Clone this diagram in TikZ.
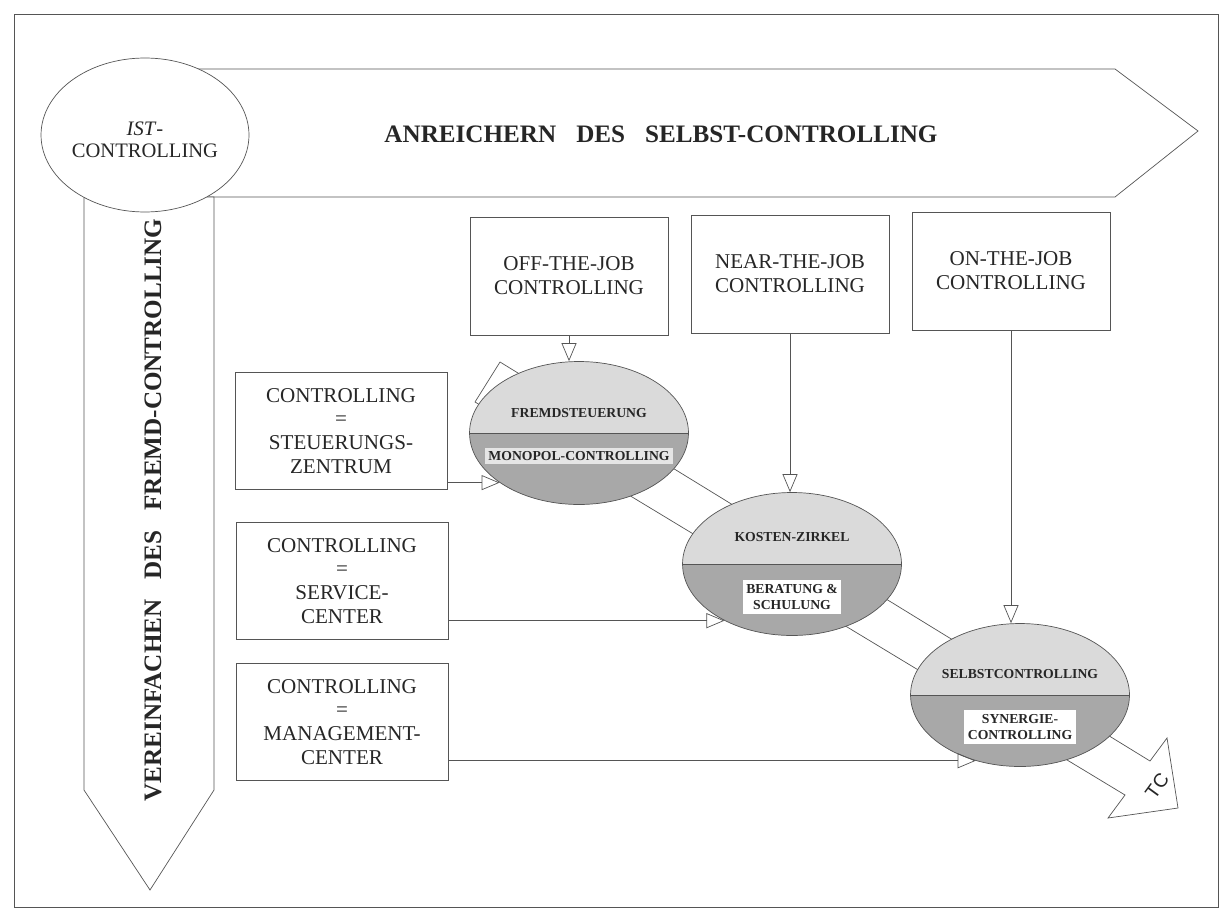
\documentclass[tikz,border=0pt]{standalone}
\usepackage{fontspec}
\setmainfont{Liberation Serif}
\setsansfont{Liberation Sans}
\usepackage{tikz}
\usetikzlibrary{positioning,shapes.geometric,arrows.meta,calc}
\definecolor{inkgray}{RGB}{85,85,85}
\definecolor{lightfill}{RGB}{218,218,218}
\definecolor{darkfill}{RGB}{168,168,168}

\begin{document}
\begin{tikzpicture}[x=0.02cm,y=-0.02cm,
    every node/.style={font=\fontsize{12}{13.6}\selectfont,text=black!85},
    jobbox/.style={draw=inkgray,align=center,minimum width=3.96cm,minimum height=2.36cm,inner sep=0pt},
    rolebox/.style={draw=inkgray,align=center,minimum width=4.24cm,minimum height=2.34cm,inner sep=0pt},
    phase/.style={ellipse,draw=inkgray,fill=lightfill,minimum width=4.38cm,minimum height=2.86cm,inner sep=0pt,
        path picture={\fill[darkfill] (path picture bounding box.west) rectangle (path picture bounding box.south east);
            \draw[inkgray] (path picture bounding box.west) -- (path picture bounding box.east);}},
    uplabel/.style={font=\fontsize{7.8}{9.6}\selectfont\bfseries,align=center,inner sep=1pt},
    lowlabel/.style={uplabel,fill=white,inner sep=2pt},
    feed/.style={draw=inkgray,-{Triangle[open,length=0.36cm,width=0.3cm]}},
    banner/.style={font=\fontsize{14.3}{16}\selectfont\bfseries}]
    \useasboundingbox (0,0) rectangle (1229,909);
    \draw[inkgray] (14,14) rectangle (1218,907);
    % the two big arrows and the start ellipse
    \draw[inkgray,fill=white] (170,69) -- (1115,69) -- (1198,131) -- (1115,197) -- (170,197) -- cycle;
    \node[banner] (selbsttitle) at (661,134) {ANREICHERN\hspace{0.8em}DES\hspace{0.8em}SELBST-CONTROLLING};
    \draw[inkgray,fill=white] (84,197) -- (214,197) -- (214,790) -- (150,890) -- (84,790) -- cycle;
    \node[banner,rotate=90] (fremdtitle) at (153,510) {VEREINFACHEN\hspace{0.8em}DES\hspace{0.8em}FREMD-CONTROLLING};
    \node[ellipse,draw=inkgray,fill=white,minimum width=4.16cm,minimum height=3.08cm] (ist) at (145,135) {};
    \node[align=center,font=\fontsize{11.7}{12.6}\selectfont] (istlabel) at ($(ist)+(0,5)$) {\textit{IST}-\\CONTROLLING};
    % band through the phases
    \draw[inkgray,fill=white] (500,362) -- (1150,761) -- (1167,738) -- (1178,808) -- (1108,818) -- (1125,795) -- (475,402) -- cycle;
    \node[rotate=54,inner sep=0pt,font=\sffamily\fontsize{11}{12}\selectfont] (tc) at (1157,786) {TC};
    % phases
    \node[phase] (fremd) at (579,433) {};
    \node[phase] (kosten) at (792,564) {};
    \node[phase] (selbst) at (1020,695) {};
    \node[uplabel] (fremdup) at ($(fremd)+(0,-20)$) {FREMDSTEUERUNG};
    \node[lowlabel,fill=lightfill!70] (fremdlow) at ($(fremd)+(0,23)$) {MONOPOL-CONTROLLING};
    \node[uplabel] (kostenup) at ($(kosten)+(0,-27)$) {KOSTEN-ZIRKEL};
    \node[lowlabel] (kostenlow) at ($(kosten)+(0,33)$) {BERATUNG \&\\SCHULUNG};
    \node[uplabel] (selbstup) at ($(selbst)+(0,-21)$) {SELBSTCONTROLLING};
    \node[lowlabel] (selbstlow) at ($(selbst)+(0,32)$) {SYNERGIE-\\CONTROLLING};
    % learning settings
    \node[jobbox] (offjob) at (569,276) {OFF-THE-JOB\\CONTROLLING};
    \node[jobbox] (nearjob) at (790,274) {NEAR-THE-JOB\\CONTROLLING};
    \node[jobbox] (onjob) at (1011,271) {ON-THE-JOB\\CONTROLLING};
    % roles
    \node[rolebox] (steuer) at (341,431) {CONTROLLING\\=\\STEUERUNGS-\\ZENTRUM};
    \node[rolebox] (service) at (342,581) {CONTROLLING\\=\\SERVICE-\\CENTER};
    \node[rolebox] (management) at (342,722) {CONTROLLING\\=\\MANAGEMENT-\\CENTER};
    \draw[feed] (offjob.south) -- (offjob.south |- fremd.north);
    \draw[feed] (nearjob.south) -- (nearjob.south |- kosten.north);
    \draw[feed] (onjob.south) -- (onjob.south |- selbst.north);
    \draw[feed] (steuer.east |- fremd.212) -- (fremd.212);
    \draw[feed] (service.east |- kosten.220) -- (kosten.220);
    \draw[feed] (management.east |- selbst.236) -- (selbst.236);
\end{tikzpicture}
\end{document}
